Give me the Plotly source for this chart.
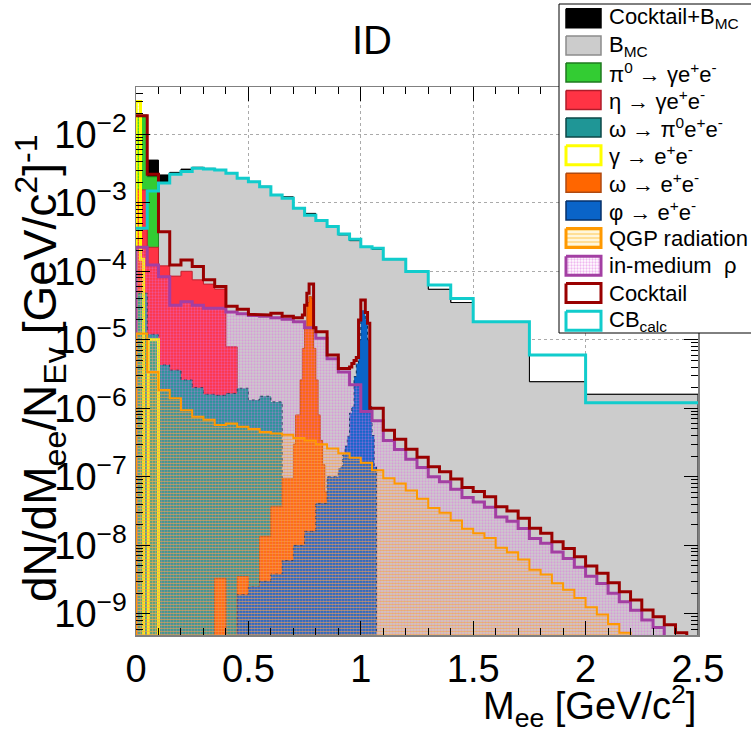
import plotly.graph_objects as go


def grid(a, b, step):
    n = int(round((b - a) / step))
    return [round(a + i * step, 3) for i in range(n + 1)]


# ---------------- data ----------------
# background histograms (coarse binning) [GeV/c^2]
BG_EDGES = [0.00, 0.05, 0.10, 0.15, 0.20, 0.25, 0.30, 0.35, 0.40, 0.45, 0.50, 0.55,
            0.60, 0.65, 0.70, 0.75, 0.80, 0.85, 0.90, 0.95, 1.00, 1.05, 1.10,
            1.20, 1.30, 1.40, 1.50, 1.75, 2.00, 2.50]
CB_CALC = [4.26e-4, 1.49e-3, 1.95e-3, 2.60e-3, 2.85e-3, 3.19e-3, 3.10e-3, 3.00e-3, 2.70e-3,
           2.28e-3, 2.03e-3, 1.72e-3, 1.30e-3, 1.16e-3, 8.3e-4, 6.6e-4, 5.5e-4, 4.5e-4,
           3.5e-4, 2.93e-4, 2.29e-4, 2.17e-4, 1.50e-4, 9.9e-5, 6.3e-5, 4.0e-5, 1.84e-5,
           6.0e-6, 1.21e-6]
B_MC = [4.0e-4, 1.5e-3, 2.0e-3, 2.65e-3, 2.95e-3, 3.2e-3, 3.1e-3, 3.0e-3, 2.7e-3,
        2.3e-3, 2.0e-3, 1.72e-3, 1.3e-3, 1.2e-3, 8.3e-4, 6.6e-4, 5.5e-4, 4.5e-4,
        3.4e-4, 2.8e-4, 2.25e-4, 2.1e-4, 1.48e-4, 9.9e-5, 5.45e-5, 3.5e-5, 1.84e-5,
        2.44e-6, 1.6e-6]
COCKTAIL_PLUS_BMC = [1.9e-2, 4.2e-3, 2.55e-3, 2.78e-3, 3.1e-3, 3.3e-3, 3.18e-3, 3.06e-3, 2.73e-3,
                     2.33e-3, 2.02e-3, 1.74e-3, 1.32e-3, 1.22e-3, 8.5e-4, 7.0e-4, 5.6e-4, 4.55e-4,
                     3.45e-4, 2.9e-4, 2.3e-4, 2.1e-4, 1.48e-4, 9.9e-5, 5.45e-5, 3.5e-5, 1.84e-5,
                     2.44e-6, 1.6e-6]

# cocktail sum (fine bins around the omega and phi peaks)
CK_EDGES = (grid(0.0, 0.70, 0.05) + grid(0.71, 0.80, 0.01) + grid(0.85, 0.95, 0.05)
            + grid(0.96, 1.05, 0.01) + grid(1.10, 2.50, 0.05))
COCKTAIL = [1.87e-2, 2.61e-3, 3.79e-4, 1.24e-4, 1.46e-4, 1.17e-4, 7.5e-5, 6.0e-5, 3.1e-5,
            2.8e-5, 2.35e-5, 2.3e-5, 2.45e-5, 2.2e-5,
            2.1e-5, 2.1e-5, 2.1e-5, 2.1e-5, 2.3e-5, 3.2e-5, 4.8e-5, 6.5e-5, 6.5e-5, 1.5e-5,
            1.31e-5, 6.0e-6, 3.8e-6,
            4.0e-6, 4.5e-6, 5.0e-6, 5.5e-6, 1.95e-5, 3.8e-5, 3.8e-5, 2.5e-5, 1.74e-5, 1.0e-6,
            1.0e-6, 4.8e-7, 3.52e-7, 2.52e-7, 1.93e-7, 1.40e-7, 1.19e-7, 9.3e-8, 7.0e-8,
            6.1e-8, 5.1e-8, 3.66e-8, 3.17e-8, 2.48e-8, 1.77e-8, 1.50e-8, 1.13e-8, 9.0e-9,
            6.8e-9, 5.0e-9, 3.9e-9, 2.85e-9, 2.1e-9, 1.59e-9, 1.14e-9, 9.1e-10, 6.9e-10,
            5.3e-10, 4.0e-10]

G05_EDGES = grid(0.0, 2.50, 0.05)
RHO_MEDIUM = [2.24e-4, 1.24e-4, 8.3e-5, 3.2e-5, 3.6e-5, 3.2e-5, 2.88e-5, 2.88e-5, 2.55e-5, 2.4e-5,
              2.27e-5, 2.2e-5, 2.1e-5, 2.0e-5, 1.84e-5, 1.5e-5, 1.05e-5, 5.3e-6, 3.4e-6, 2.2e-6,
              9.0e-7, 6.6e-7, 3.4e-7, 2.5e-7, 1.8e-7, 1.37e-7, 1.0e-7, 8.5e-8, 6.6e-8, 5.0e-8,
              4.3e-8, 3.6e-8, 2.6e-8, 2.25e-8, 1.76e-8, 1.26e-8, 1.07e-8, 8.0e-9, 6.4e-9, 4.8e-9,
              3.55e-9, 2.77e-9, 2.0e-9, 1.5e-9, 1.13e-9, 8.1e-10, 6.3e-10, 4.6e-10, 3.6e-10, 2.8e-10]
QGP = [1.24e-5, 3.4e-6, 1.85e-6, 1.4e-6, 9.4e-7, 7.5e-7, 6.8e-7, 5.7e-7, 6.0e-7, 5.4e-7,
       5.0e-7, 4.5e-7, 4.3e-7, 4.1e-7, 3.7e-7, 3.4e-7, 3.0e-7, 2.6e-7, 2.2e-7, 1.9e-7,
       1.6e-7, 1.25e-7, 9.5e-8, 8.0e-8, 6.3e-8, 4.8e-8, 3.5e-8, 3.0e-8, 2.3e-8, 1.75e-8,
       1.5e-8, 1.28e-8, 9.2e-9, 7.9e-9, 6.2e-9, 4.4e-9, 3.75e-9, 2.8e-9, 2.25e-9, 1.7e-9,
       1.25e-9, 9.8e-10, 7.1e-10, 5.3e-10, 4.0e-10, 3.0e-10, 2.2e-10, 1.7e-10, 1.3e-10, 1.0e-10]

PI0_EDGES = [0.0, 0.05, 0.10]
PI0_DALITZ = [1.8e-2, 2.4e-3]

ETA_EDGES = grid(0.0, 0.45, 0.05)
ETA_DALITZ = [1.54e-3, 2.24e-4, 1.2e-4, 8.5e-5, 1.0e-4, 7.5e-5, 6.5e-5, 5.5e-5, 7.9e-6]

OMEGA_DALITZ_EDGES = grid(0.0, 0.65, 0.05)
OMEGA_DALITZ = [4.8e-5, 1.2e-5, 4.3e-6, 3.6e-6, 2.6e-6, 2.0e-6, 1.6e-6, 1.55e-6, 1.65e-6,
                1.96e-6, 1.32e-6, 1.5e-6, 1.24e-6]

GAMMA_EDGES = [0.0, 0.02, 0.034, 0.055, 0.10]
GAMMA_CONV = [3.0e-2, 1.5e-4, 0.0, 1.0e-5]

OMEGA_EE_EDGES = grid(0.35, 0.70, 0.05) + grid(0.71, 0.85, 0.01)
OMEGA_EE = [3.3e-9, 0.0, 3.5e-9, 0.0, 1.34e-8, 3.65e-8, 9.5e-8,
            3.0e-7, 8.0e-7, 8.0e-7, 2.6e-6, 7.5e-6, 1.47e-5, 3.5e-5, 4.3e-5, 4.0e-5,
            7.5e-6, 2.6e-6, 8.0e-7, 3.4e-7, 1.5e-7, 6.0e-8]

PHI_EE_EDGES = grid(0.45, 0.90, 0.05) + grid(0.91, 1.07, 0.01)
PHI_EE = [1.9e-9, 2.5e-9, 3.0e-9, 3.8e-9, 6.0e-9, 1.0e-8, 1.6e-8, 4.1e-8, 1.0e-7,
          1.3e-7, 1.4e-7, 2.1e-7, 2.8e-7, 3.9e-7, 8.5e-7, 1.05e-6, 2.9e-6, 4.5e-6,
          1.0e-5, 2.7e-5, 2.7e-5, 2.0e-5, 1.0e-5, 1.05e-6, 4.0e-7, 1.4e-7]

Y_TICKS = [1e-9, 1e-8, 1e-7, 1e-6, 1e-5, 1e-4, 1e-3, 1e-2]
Y_TICKTEXT = ["10<sup>\u2212%d</sup>" % k for k in (9, 8, 7, 6, 5, 4, 3, 2)]
X_TICKS = [0, 0.5, 1, 1.5, 2, 2.5]
X_TICKTEXT = ["0", "0.5", "1", "1.5", "2", "2.5"]

LEGEND_LABELS = ["Cocktail+B<sub>MC</sub>", "B<sub>MC</sub>",
                 "\u03c0<sup>0</sup> \u2192 \u03b3e<sup>+</sup>e<sup>-</sup>",
                 "\u03b7 \u2192 \u03b3e<sup>+</sup>e<sup>-</sup>",
                 "\u03c9 \u2192 \u03c0<sup>0</sup>e<sup>+</sup>e<sup>-</sup>",
                 "\u03b3 \u2192 e<sup>+</sup>e<sup>-</sup>",
                 "\u03c9 \u2192 e<sup>+</sup>e<sup>-</sup>",
                 "\u03c6 \u2192 e<sup>+</sup>e<sup>-</sup>",
                 "QGP radiation", "in-medium  \u03c1", "Cocktail", "CB<sub>calc</sub>"]

for e, v in [(BG_EDGES, CB_CALC), (BG_EDGES, B_MC), (BG_EDGES, COCKTAIL_PLUS_BMC),
             (CK_EDGES, COCKTAIL), (G05_EDGES, RHO_MEDIUM), (G05_EDGES, QGP),
             (PI0_EDGES, PI0_DALITZ), (ETA_EDGES, ETA_DALITZ),
             (OMEGA_DALITZ_EDGES, OMEGA_DALITZ), (GAMMA_EDGES, GAMMA_CONV),
             (OMEGA_EE_EDGES, OMEGA_EE), (PHI_EE_EDGES, PHI_EE)]:
    assert len(e) == len(v) + 1, (len(e), len(v))

# ---------------- geometry / style ----------------
W, H = 751, 732
PX_L, PX_R, PX_T, PX_B = 136, 698, 87, 635
FONT = "Liberation Sans, Arial, Helvetica, sans-serif"
FLOOR = 1e-14

C_BLACK = "#000000"
C_GRAY = "#cccccc"
C_GREEN = "#33cc33"
C_RED = "#ff3344"
C_TEAL = "#1f9696"
C_YELLOW = "#ffff00"
C_ORANGE = "#ff6600"
C_BLUE = "#0a64c8"
C_QGP_LINE = "#ff9900"
C_QGP_FILL = "#ffb020"
C_RHO_LINE = "#a33fa3"
C_RHO_FILL = "#e070e0"
C_COCKTAIL = "#990000"
C_CB = "#11cccc"


def step_polygon(edges, values):
    xs, ys = [edges[0]], [FLOOR]
    for i, v in enumerate(values):
        v = v if v > 0 else FLOOR
        xs += [edges[i], edges[i + 1]]
        ys += [v, v]
    xs.append(edges[-1])
    ys.append(FLOOR)
    return xs, ys


def step_line(edges, values):
    xs, ys = [], []
    for i, v in enumerate(values):
        xs += [edges[i], edges[i + 1]]
        ys += [v if v > 0 else FLOOR] * 2
    return xs, ys


fig = go.Figure()


def filled(edges, values, fill, line, lw=1, dash="solid", pattern=None):
    xs, ys = step_polygon(edges, values)
    kw = dict(x=xs, y=ys, mode="lines", fill="toself",
              line=dict(color=line, width=lw, dash=dash),
              hoverinfo="skip", showlegend=False, xaxis="x", yaxis="y")
    if pattern is not None:
        kw["fillcolor"] = "rgba(0,0,0,0)"
        kw["fillpattern"] = pattern
    else:
        kw["fillcolor"] = fill
    fig.add_trace(go.Scatter(**kw))


def outline(edges, values, color, lw):
    xs, ys = step_line(edges, values)
    fig.add_trace(go.Scatter(x=xs, y=ys, mode="lines", line=dict(color=color, width=lw),
                             hoverinfo="skip", showlegend=False, xaxis="x", yaxis="y"))


QGP_PATTERN = dict(shape="-", fgcolor=C_QGP_FILL, bgcolor="rgba(0,0,0,0)", size=3, solidity=0.5)
RHO_PATTERN = dict(shape=".", fgcolor=C_RHO_FILL, bgcolor="rgba(0,0,0,0)", size=3, solidity=0.45)
GAMMA_PATTERN = dict(shape=".", fgcolor=C_YELLOW, bgcolor="rgba(0,0,0,0)", size=3, solidity=0.5)

filled(BG_EDGES, COCKTAIL_PLUS_BMC, C_BLACK, C_BLACK, 1)
filled(BG_EDGES, B_MC, C_GRAY, C_BLACK, 1)
filled(PI0_EDGES, PI0_DALITZ, C_GREEN, "#1f8a1f", 1)
filled(ETA_EDGES, ETA_DALITZ, C_RED, "#c0202e", 1)
filled(OMEGA_DALITZ_EDGES, OMEGA_DALITZ, C_TEAL, "#0c3c4c", 1, "dot")
filled(GAMMA_EDGES, GAMMA_CONV, None, C_YELLOW, 3, pattern=GAMMA_PATTERN)
filled(OMEGA_EE_EDGES, OMEGA_EE, C_ORANGE, "#d05000", 1)
filled(PHI_EE_EDGES, PHI_EE, C_BLUE, "#06305f", 1, "dot")
filled(G05_EDGES, RHO_MEDIUM, None, C_RHO_LINE, 3, pattern=RHO_PATTERN)
filled(G05_EDGES, QGP, None, C_QGP_LINE, 2, pattern=QGP_PATTERN)
outline(CK_EDGES, COCKTAIL, C_COCKTAIL, 3)
outline(BG_EDGES, CB_CALC, C_CB, 3)

# ---------------- legend drawn on a pixel overlay axis ----------------
ROW_Y = [18.3, 45.5, 72.5, 100, 127.5, 155.3, 182.7, 210.5, 238, 265.8, 293, 320.8]
SW_X0, SW_X1, SW_H = 566, 601, 19


def rect_trace(x0, y0, x1, y1, fill, line, lw, pattern=None):
    kw = dict(x=[x0, x1, x1, x0, x0], y=[y0, y0, y1, y1, y0], mode="lines", fill="toself",
              line=dict(color=line, width=lw), hoverinfo="skip", showlegend=False,
              xaxis="x2", yaxis="y2")
    if pattern is not None:
        kw["fillcolor"] = "rgba(0,0,0,0)"
        kw["fillpattern"] = pattern
    else:
        kw["fillcolor"] = fill
    fig.add_trace(go.Scatter(**kw))


rect_trace(559, 4, 762, 333, "#ffffff", "#000000", 1)
SWATCHES = [
    (C_BLACK, "#000000", 1.5, None),
    (C_GRAY, "#8c8c8c", 1.5, None),
    (C_GREEN, "#1f7a1f", 1.5, None),
    (C_RED, "#b01c2a", 1.5, None),
    (C_TEAL, "#0c4848", 1.5, None),
    ("#ffffff", C_YELLOW, 3, None),
    (C_ORANGE, "#b04a10", 1.5, None),
    (C_BLUE, "#06306a", 1.5, None),
    (None, C_QGP_LINE, 3, dict(shape="-", fgcolor="#ffc850", bgcolor="#fff6dc", size=4, solidity=0.5)),
    (None, C_RHO_LINE, 3, dict(shape=".", fgcolor=C_RHO_FILL, bgcolor="#ffffff", size=3, solidity=0.45)),
    ("#ffffff", C_COCKTAIL, 3, None),
    ("#ffffff", C_CB, 3, None),
]
annotations = []
for cy, (fc, lc, lw, pat), lab in zip(ROW_Y, SWATCHES, LEGEND_LABELS):
    rect_trace(SW_X0, cy - SW_H / 2, SW_X1, cy + SW_H / 2, fc, lc, lw, pat)
    annotations.append(dict(text=lab, x=607 / W, y=1 - cy / H, xref="paper", yref="paper",
                            xanchor="left", yanchor="middle", showarrow=False,
                            font=dict(size=22, color="black", family=FONT)))

annotations += [
    dict(text="ID", x=372 / W, y=1 - 40 / H, xref="paper", yref="paper", xanchor="center",
         yanchor="middle", showarrow=False, font=dict(size=40, color="black", family=FONT)),
    dict(text="M<sub>ee</sub> [GeV/c<sup>2</sup>]", x=698 / W, y=1 - 706 / H, xref="paper",
         yref="paper", xanchor="right", yanchor="middle", showarrow=False,
         font=dict(size=38, color="black", family=FONT)),
    dict(text="dN/dM<sub>ee</sub>/N<sub>Ev</sub> [GeV/c<sup>2</sup>]<sup>-1</sup>", textangle=-90,
         x=40 / W, y=1 - 368 / H, xref="paper", yref="paper", xanchor="center",
         yanchor="middle", showarrow=False, font=dict(size=46, color="black", family=FONT)),
]

fig.update_layout(
    width=W, height=H, margin=dict(l=0, r=0, t=0, b=0, autoexpand=False),
    paper_bgcolor="white", plot_bgcolor="rgba(0,0,0,0)", showlegend=False,
    font=dict(family=FONT, color="black"),
    annotations=annotations,
    xaxis=dict(domain=[PX_L / W, PX_R / W], range=[0, 2.5], anchor="y", automargin=False,
               tickvals=X_TICKS, ticktext=X_TICKTEXT, tickfont=dict(size=38),
               ticks="inside", ticklen=14, tickwidth=1, tickcolor="black",
               showline=True, linecolor="#808080", linewidth=1.5, mirror="allticks",
               showgrid=True, gridcolor="#aaaaaa", griddash="dot", gridwidth=1,
               zeroline=False,
               minor=dict(dtick=0.1, ticks="inside", ticklen=7, tickcolor="black", showgrid=False)),
    yaxis=dict(domain=[1 - PX_B / H, 1 - PX_T / H], type="log", range=[-9.309, -1.31],
               anchor="x", automargin=False, tickvals=Y_TICKS, ticktext=Y_TICKTEXT,
               tickfont=dict(size=38),
               ticks="inside", ticklen=14, tickwidth=1, tickcolor="black",
               showline=True, linecolor="#808080", linewidth=1.5, mirror="allticks",
               showgrid=True, gridcolor="#aaaaaa", griddash="dot", gridwidth=1,
               zeroline=False, ticklabelstandoff=0,
               minor=dict(dtick="D1", ticks="inside", ticklen=7, tickcolor="black", showgrid=False)),
    xaxis2=dict(domain=[0, 1], range=[0, W], anchor="y2", visible=False, fixedrange=True,
                automargin=False),
    yaxis2=dict(domain=[0, 1], range=[H, 0], anchor="x2", visible=False, fixedrange=True,
                automargin=False),
)

fig.write_html("out.html", config={"displayModeBar": False, "staticPlot": True},
               post_script="document.body.style.margin='0px';"
                           "document.body.style.overflow='hidden';")
